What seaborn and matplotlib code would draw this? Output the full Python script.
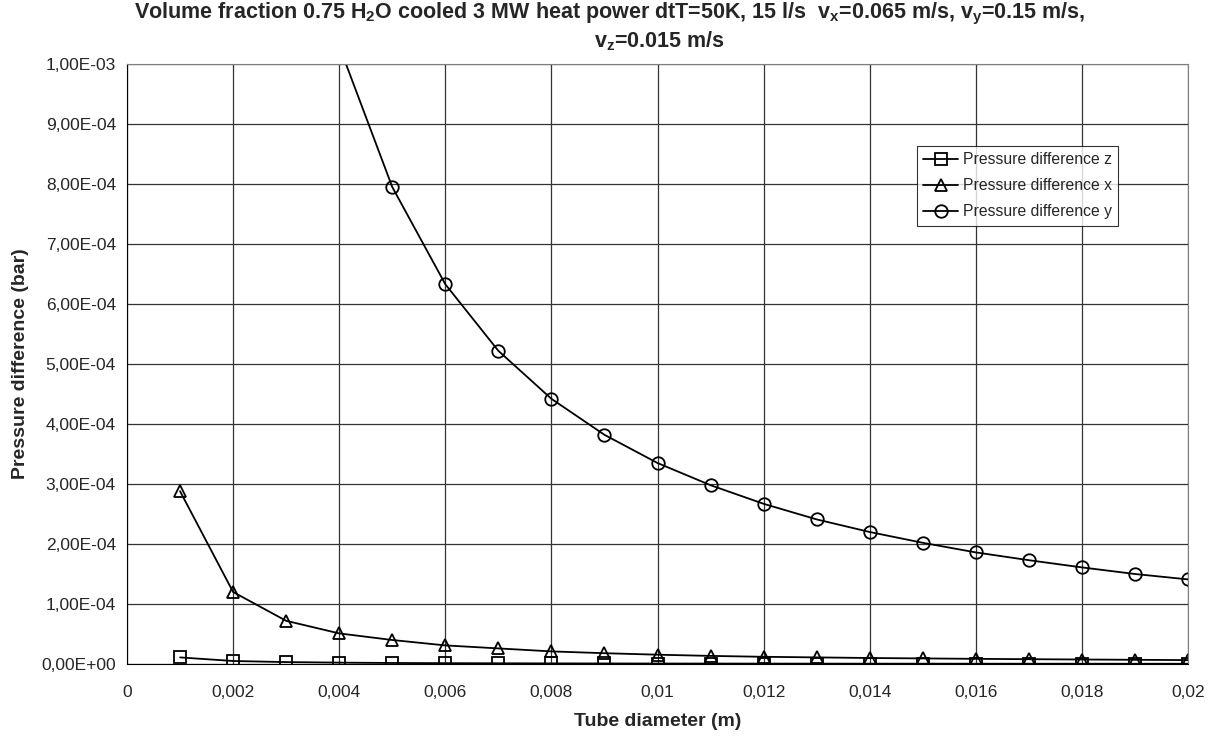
import matplotlib
matplotlib.use('Agg')
import matplotlib.pyplot as plt
import seaborn as sns
import numpy as np
from matplotlib.ticker import FuncFormatter, MultipleLocator

# Data
diameter = [0.001, 0.002, 0.003, 0.004, 0.005, 0.006, 0.007, 0.008, 0.009, 0.010,
            0.011, 0.012, 0.013, 0.014, 0.015, 0.016, 0.017, 0.018, 0.019, 0.020]
dp_z = [1.1e-5, 5.0e-6, 3.2e-6, 2.3e-6, 1.7e-6, 1.4e-6, 1.2e-6, 1.0e-6, 9.0e-7, 8.0e-7,
        7.2e-7, 6.6e-7, 6.0e-7, 5.6e-7, 5.2e-7, 4.8e-7, 4.5e-7, 4.3e-7, 4.0e-7, 3.8e-7]
dp_x = [2.88e-4, 1.20e-4, 7.2e-5, 5.1e-5, 4.0e-5, 3.1e-5, 2.6e-5, 2.1e-5, 1.8e-5, 1.55e-5,
        1.35e-5, 1.2e-5, 1.1e-5, 1.0e-5, 9.3e-6, 8.6e-6, 8.0e-6, 7.5e-6, 7.0e-6, 6.5e-6]
dp_y = [5.8e-3, 2.4e-3, 1.5e-3, 1.03e-3, 7.95e-4, 6.33e-4, 5.22e-4, 4.42e-4, 3.82e-4, 3.35e-4,
        2.98e-4, 2.67e-4, 2.41e-4, 2.20e-4, 2.02e-4, 1.86e-4, 1.73e-4, 1.61e-4, 1.50e-4, 1.41e-4]

series = [('Pressure difference z', dp_z, 's'),
          ('Pressure difference x', dp_x, '^'),
          ('Pressure difference y', dp_y, 'o')]

sns.set_style('white')
plt.rcParams['font.family'] = ['Liberation Sans', 'DejaVu Sans']
plt.rcParams['mathtext.fontset'] = 'custom'
plt.rcParams['mathtext.bf'] = 'Liberation Sans:bold'
plt.rcParams['mathtext.rm'] = 'Liberation Sans'
plt.rcParams['mathtext.default'] = 'bf'

fig = plt.figure(figsize=(12.22, 7.38), dpi=100)
ax = fig.add_axes([127 / 1222, 1 - 664 / 738, (1188 - 127) / 1222, 600 / 738])

for name, vals, mk in series:
    sns.lineplot(x=diameter, y=vals, ax=ax, color='black', linewidth=1.3,
                 marker=mk, markersize=9, markerfacecolor='none',
                 markeredgecolor='black', markeredgewidth=1.3, label=name)

ax.set_xlim(0, 0.02)
ax.set_ylim(0, 1e-3)
ax.xaxis.set_major_locator(MultipleLocator(0.002))
ax.yaxis.set_major_locator(MultipleLocator(1e-4))
ax.xaxis.set_major_formatter(FuncFormatter(lambda v, p: f"{round(v, 4):g}".replace('.', ',')))
ax.yaxis.set_major_formatter(FuncFormatter(lambda v, p: f"{v:.2E}".replace('.', ',')))
ax.grid(True, color='#333333', linewidth=0.9)
ax.tick_params(axis='both', labelsize=12.5, length=5, direction='out', color='black')
ax.tick_params(axis='x', length=0, pad=15)
ax.tick_params(axis='y', pad=3)
for s in ax.spines.values():
    s.set_color('#808080')
ax.spines['left'].set_color('black')
ax.spines['bottom'].set_color('black')

ax.set_xlabel('Tube diameter (m)', fontsize=14, fontweight='bold')
ax.set_ylabel('Pressure difference (bar)', fontsize=14, fontweight='bold')
ax.xaxis.set_label_coords(0.5, -0.082)
ax.yaxis.set_label_coords(-0.092, 0.5)

fig.text(610 / 1222, 1 - 14 / 738,
         'Volume fraction 0.75 H$_2$O cooled 3 MW heat power dtT=50K, 15 l/s  '
         'v$_x$=0.065 m/s, v$_y$=0.15 m/s,',
         fontsize=15.5, fontweight='bold', ha='center', va='center')
fig.text(659 / 1222, 1 - 41 / 738, 'v$_z$=0.015 m/s',
         fontsize=15.5, fontweight='bold', ha='center', va='center')

leg = ax.legend(loc='upper left', bbox_to_anchor=((917 - 127) / 1061, 1 - (146 - 64) / 600),
                fontsize=11.3, frameon=True, fancybox=False, edgecolor='black',
                handlelength=2.2, borderpad=0.4, labelspacing=0.7, handletextpad=0.3,
                borderaxespad=0)
leg.get_frame().set_linewidth(0.8)

plt.savefig('out.png', dpi=100)
